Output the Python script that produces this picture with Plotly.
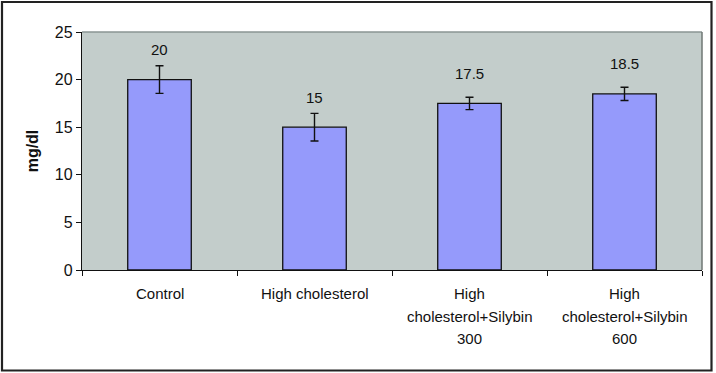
import plotly.graph_objects as go

categories = ["Control", "High cholesterol", "High<br>cholesterol+Silybin<br>300", "High<br>cholesterol+Silybin<br>600"]
values = [20, 15, 17.5, 18.5]
errors = [1.45, 1.45, 0.65, 0.7]
y_ticks = [0, 5, 10, 15, 20, 25]
y_title = "mg/dl"

W, H = 716, 373
L, R, T, B = 82, 14, 32, 103
pw, ph = W - L - R, H - T - B

font = "Liberation Sans, Arial, sans-serif"
FS = 15

fig = go.Figure()
fig.add_trace(go.Bar(
    x=list(range(len(categories))), y=values, width=0.41,
    marker=dict(color="#959afb", line=dict(color="#111111", width=1.3)),
    error_y=dict(type="data", array=errors, visible=True, color="#111111", thickness=1.4, width=4),
    hoverinfo="skip",
))

annotations = []
for i, v in enumerate(values):
    annotations.append(dict(x=i, y=v, xref="x", yref="y", text=f"{v:g}", showarrow=False,
                            yshift=30, yanchor="middle", font=dict(family=font, size=FS, color="#111")))
for i, c in enumerate(categories):
    for j, line in enumerate(c.split("<br>")):
        annotations.append(dict(x=i, y=0, xref="x", yref="paper", text=line, showarrow=False,
                                yshift=-(23.5 + 22.5 * j), yanchor="middle",
                                font=dict(family=font, size=FS, color="#111")))

shapes = [
    # figure border
    dict(type="rect", xref="paper", yref="paper",
         x0=(2 - L) / pw, x1=(711.5 - L) / pw, y0=(H - B - 370.5) / ph, y1=(H - B - 2) / ph,
         line=dict(color="#222", width=2.2), layer="above"),
    # plot area top/right border
    dict(type="line", xref="paper", yref="paper", x0=0, x1=1, y0=1, y1=1,
         line=dict(color="#8a9593", width=1.5)),
    dict(type="line", xref="paper", yref="paper", x0=1, x1=1, y0=0, y1=1,
         line=dict(color="#6f7775", width=1.5)),
]

fig.update_layout(
    width=W, height=H, margin=dict(l=L, r=R, t=T, b=B),
    paper_bgcolor="white", plot_bgcolor="#c3cdcb",
    showlegend=False, bargap=0.59,
    font=dict(family=font, size=FS, color="#111"),
    xaxis=dict(range=[-0.5, 3.5], tickvals=[-0.5, 0.5, 1.5, 2.5, 3.5], showticklabels=False,
               ticks="outside", ticklen=5, tickcolor="#111", showline=True, linecolor="#111",
               linewidth=1.3, showgrid=False, zeroline=False, fixedrange=True),
    yaxis=dict(range=[0, 25], tickvals=y_ticks, ticks="outside", ticklen=5, tickcolor="#111",
               showline=True, linecolor="#111", linewidth=1.3, showgrid=False, zeroline=False,
               tickfont=dict(family=font, size=16, color="#111"),
               title=dict(text=f"<b>{y_title}</b>", standoff=12, font=dict(family=font, size=16, color="#111"))),
    annotations=annotations, shapes=shapes,
)

fig.write_html("out.html", config={"displayModeBar": False},
               post_script="document.body.style.margin='0';document.body.style.overflow='hidden';")
